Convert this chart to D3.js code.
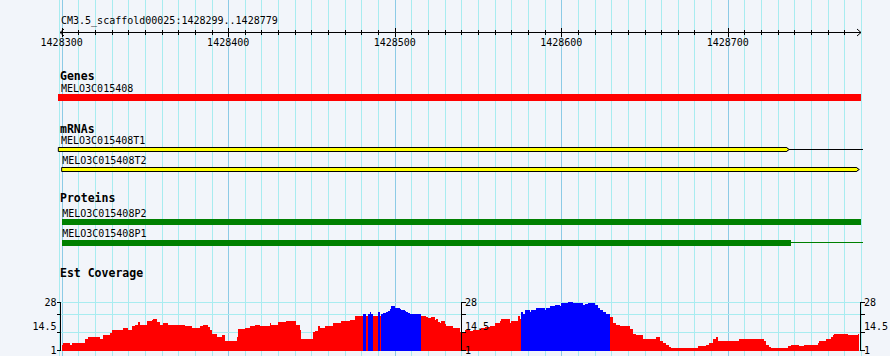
<!DOCTYPE html>
<html><head><meta charset="utf-8">
<script src="https://cdn.jsdelivr.net/npm/d3@7"></script>
<style>
body{margin:0;background:#f2f5fa}
svg{display:block}
text{font-family:"DejaVu Sans Mono",monospace}
</style>
</head><body>
<script>
// ---------- data ----------
const regionTitle = "CM3.5_scaffold00025:1428299..1428779";
const regionStart = 1428299;
const regionEnd = 1428780;
const axisTickLabels = ["1428300", "1428400", "1428500", "1428600", "1428700"];

const geneNames = ["MELO3C015408"];
const geneStarts = [1428298];
const geneEnds = [1428780];

const mrnaNames = ["MELO3C015408T1", "MELO3C015408T2"];
const mrnaStarts = [1428298, 1428300];
const mrnaBoxEnds = [1428737, 1428779];
const mrnaLineEnds = [1428781, 1428779];

const proteinNames = ["MELO3C015408P2", "MELO3C015408P1"];
const proteinStarts = [1428300, 1428300];
const proteinBoxEnds = [1428780, 1428738];
const proteinLineEnds = [1428780, 1428781];

const covTitle = "Est Coverage";
const covMin = 1, covMax = 28;
const covTickValues = [1, 11, 21, 28];
const covTickLabels = ["28", "14.5", "1"];
const covStart = [
 1428300,1428301,1428305,1428306,1428314,1428316,1428323,1428325,1428329,1428330,
 1428337,1428340,1428342,1428344,1428346,1428347,1428351,1428354,1428355,1428357,
 1428359,1428361,1428364,1428374,1428378,1428383,1428385,1428388,1428389,1428390,
 1428393,1428396,1428398,1428405,1428406,1428410,1428413,1428416,1428419,1428425,
 1428426,1428430,1428435,1428441,1428443,1428444,1428451,1428452,1428454,1428455,
 1428458,1428463,1428468,1428473,1428476,1428481,1428483,1428484,1428485,1428486,
 1428487,1428490,1428491,1428492,1428493,1428495,1428496,1428497,1428498,1428500,
 1428503,1428504,1428506,1428507,1428508,1428509,1428516,1428519,1428520,1428522,
 1428524,1428525,1428526,1428527,1428528,1428530,1428531,1428535,1428539,1428542,
 1428545,1428547,1428551,1428552,1428554,1428557,1428560,1428563,1428564,1428569,
 1428570,1428574,1428575,1428576,1428577,1428578,1428581,1428582,1428585,1428590,
 1428591,1428593,1428596,1428599,1428600,1428604,1428607,1428613,1428614,1428616,
 1428620,1428622,1428623,1428625,1428627,1428629,1428631,1428633,1428635,1428641,
 1428643,1428645,1428649,1428657,1428659,1428661,1428663,1428665,1428666,1428682,
 1428687,1428689,1428691,1428693,1428694,1428707,1428722,1428723,1428725,1428726,
 1428736,1428738,1428743,1428746,1428754,1428755,1428759,1428762,1428763,1428764,
 1428772,1428778
];
const covValue = [
 3.8,4.9,3.8,4.9,7.1,8.3,7.1,9.4,10.5,12.2,
 13.3,12.2,14.4,15.0,16.6,15.0,17.2,17.8,18.3,16.6,
 15.0,16.1,15.0,14.4,13.3,14.4,15.0,13.9,12.2,9.9,
 8.3,9.4,6.0,8.3,12.7,13.3,14.4,15.0,14.4,16.1,
 15.0,16.6,17.2,15.0,12.2,7.1,11.1,11.6,14.4,13.3,
 14.4,16.1,17.2,17.8,20.0,21.1,20.0,21.1,22.2,21.1,
 20.0,22.2,20.0,21.1,21.7,22.2,22.8,23.9,25.6,24.5,
 23.9,23.4,22.8,22.2,21.7,21.1,20.0,19.4,18.9,19.4,
 17.8,18.3,16.6,16.1,17.2,15.5,14.4,13.3,11.1,12.2,
 11.6,12.2,12.7,13.3,13.9,14.4,16.1,17.2,18.3,16.1,
 17.2,20.0,18.3,22.2,21.1,23.4,22.2,23.4,24.5,23.4,
 24.5,25.6,26.1,25.6,27.3,28.0,27.3,26.1,26.7,27.3,
 26.1,24.5,23.4,22.2,21.1,19.4,16.1,15.0,14.4,12.7,
 9.9,9.4,7.1,8.3,6.0,4.9,3.8,2.7,2.1,3.2,
 3.8,4.9,7.1,8.3,6.0,7.1,6.0,3.8,2.7,2.1,
 3.2,3.8,3.2,3.8,4.9,6.0,7.1,8.3,9.4,9.9,
 9.4,9.9
];
const covEnd = 1428779;
const covBlueStarts = [1428481, 1428484, 1428490, 1428492, 1428576];
const covBlueEnds   = [1428483, 1428487, 1428491, 1428516, 1428629];

// ---------- layout ----------
const W = 890, H = 356;
const x = d3.scaleLinear().domain([regionStart, regionEnd]).range([60, 861]);
const yCov = d3.scaleLinear().domain([covMin, covMax]).range([350, 301.7]);

const svg = d3.select("body").append("svg").attr("width", W).attr("height", H)
  .attr("shape-rendering", "crispEdges");
svg.append("rect").attr("width", W).attr("height", H).attr("fill", "#f2f5fa");

// vertical grid
const gridPos = d3.range(1428300, regionEnd + 1, 10);
const px = v => Math.round(x(v)) + 0.5;
svg.append("line").attr("x1", 59.5).attr("x2", 59.5).attr("y1", 0).attr("y2", H)
  .attr("stroke", "#a8ecf0");
svg.selectAll("line.vg").data(gridPos).join("line").attr("class", "vg")
  .attr("x1", d => px(d)).attr("x2", d => px(d)).attr("y1", 0).attr("y2", H)
  .attr("stroke", d => d % 100 === 0 ? "#8ccbe6" : "#a8ecf0");

// coverage horizontal grid
svg.selectAll("line.hg").data(covTickValues).join("line").attr("class", "hg")
  .attr("x1", 60).attr("x2", px(regionEnd))
  .attr("y1", d => Math.round(yCov(d)) + 0.5).attr("y2", d => Math.round(yCov(d)) + 0.5)
  .attr("stroke", "#a8ecf0");

// title + top ruler
svg.append("text").attr("x", 61).attr("y", 23.5).attr("font-size", 10).text(regionTitle);
const ay = 32.5;
svg.append("line").attr("x1", 60).attr("x2", 861).attr("y1", ay).attr("y2", ay).attr("stroke", "#000");
svg.append("path").attr("d", `M64,${ay-3.5}L60,${ay}L64,${ay+3.5}`).attr("fill", "none").attr("stroke", "#000")
  .attr("shape-rendering", "auto");
svg.append("path").attr("d", `M857,${ay-3.5}L861,${ay}L857,${ay+3.5}`).attr("fill", "none").attr("stroke", "#000")
  .attr("shape-rendering", "auto");
svg.selectAll("line.tk").data(gridPos.filter(d => d < regionEnd)).join("line").attr("class", "tk")
  .attr("x1", d => px(d)).attr("x2", d => px(d))
  .attr("y1", d => d % 100 === 0 ? 28 : 29.5).attr("y2", d => d % 100 === 0 ? 37 : 35)
  .attr("stroke", "#000");
svg.selectAll("text.tl").data(axisTickLabels).join("text").attr("class", "tl")
  .attr("x", d => x(+d)).attr("y", 45.5).attr("text-anchor", "middle").attr("font-size", 10).text(d => d);

// helpers
function trackLabel(t, y) {
  svg.append("text").attr("x", 60).attr("y", y).attr("font-size", 11.5).attr("font-weight", "bold").text(t);
}
function featLabel(t, start, y) {
  svg.append("text").attr("x", Math.max(61, x(start) + 0.5)).attr("y", y).attr("font-size", 10).text(t);
}

// Genes
trackLabel("Genes", 80);
geneNames.forEach((n, i) => {
  featLabel(n, geneStarts[i], 91.5);
  svg.append("rect").attr("x", x(geneStarts[i])).attr("y", 94).attr("width", x(geneEnds[i]) - x(geneStarts[i]))
    .attr("height", 7).attr("fill", "#ff0000");
});

// mRNAs
trackLabel("mRNAs", 133);
const mrnaLabelY = [144, 164], mrnaBarY = [147.5, 167.5];
mrnaNames.forEach((n, i) => {
  featLabel(n, mrnaStarts[i], mrnaLabelY[i]);
  const y0 = mrnaBarY[i], h = 4, x0 = x(mrnaStarts[i]), x1 = x(mrnaBoxEnds[i]), xl = x(mrnaLineEnds[i]);
  if (xl > x1 + 1) {
    svg.append("line").attr("x1", x1).attr("x2", xl).attr("y1", y0 + 2).attr("y2", y0 + 2).attr("stroke", "#000");
  }
  svg.append("path")
    .attr("d", `M${x0},${y0}L${x1 - 2.5},${y0}L${x1 - 2.5},${y0 + 0.5}L${x1},${y0 + 2}L${x1 - 2.5},${y0 + 3.5}L${x1 - 2.5},${y0 + h}L${x0},${y0 + h}Z`)
    .attr("fill", "#ffff00").attr("stroke", "#000").attr("stroke-width", 1).attr("shape-rendering", "auto");
});

// Proteins
trackLabel("Proteins", 202);
const protLabelY = [216.5, 237], protBarY = [219, 240];
proteinNames.forEach((n, i) => {
  featLabel(n, proteinStarts[i], protLabelY[i]);
  const x0 = x(proteinStarts[i]), x1 = x(proteinBoxEnds[i]), xl = x(proteinLineEnds[i]);
  if (xl > x1 + 1) {
    svg.append("line").attr("x1", x1).attr("x2", xl).attr("y1", protBarY[i] + 2.5).attr("y2", protBarY[i] + 2.5)
      .attr("stroke", "#008000");
  }
  svg.append("rect").attr("x", x0).attr("y", protBarY[i]).attr("width", x1 - x0).attr("height", 6)
    .attr("fill", "#008000");
});

// Est coverage
trackLabel(covTitle, 277);
const covData = covStart.map((s, i) => ({
  s, e: i < covStart.length - 1 ? covStart[i + 1] : covEnd, v: covValue[i],
  blue: covBlueStarts.some((b, k) => s >= b && s < covBlueEnds[k])
}));
svg.append("g").selectAll("rect").data(covData).join("rect")
  .attr("x", d => Math.round(x(d.s))).attr("width", d => Math.round(x(d.e)) - Math.round(x(d.s)))
  .attr("y", d => Math.round(yCov(d.v))).attr("height", d => 351 - Math.round(yCov(d.v)))
  .attr("fill", d => d.blue ? "#0000ff" : "#ff0000");

// coverage axes
const covAxisX = [60.5, Math.round(x((regionStart + regionEnd) / 2)) + 0.5, 860.5];
const covAxisSide = [-1, 1, 1];
const labelYs = [yCov(covMax), (yCov(covMax) + yCov(covMin)) / 2, yCov(covMin)];
covAxisX.forEach((ax, k) => {
  const dir = covAxisSide[k];
  const g = svg.append("g");
  g.append("line").attr("x1", ax).attr("x2", ax).attr("y1", Math.round(yCov(covMax))).attr("y2", Math.round(yCov(covMin)) + 1)
    .attr("stroke", "#000");
  g.selectAll("line.t").data(covTickValues).join("line").attr("class", "t")
    .attr("x1", ax).attr("x2", ax + dir * 4)
    .attr("y1", d => Math.round(yCov(d)) + 0.5).attr("y2", d => Math.round(yCov(d)) + 0.5).attr("stroke", "#000");
  g.selectAll("text").data(covTickLabels).join("text")
    .attr("x", dir < 0 ? ax - 4 : ax + 3.5).attr("y", (d, i) => labelYs[i] + 3.8)
    .attr("text-anchor", dir < 0 ? "end" : "start").attr("font-size", 10).text(d => d);
});
</script>
</body></html>
